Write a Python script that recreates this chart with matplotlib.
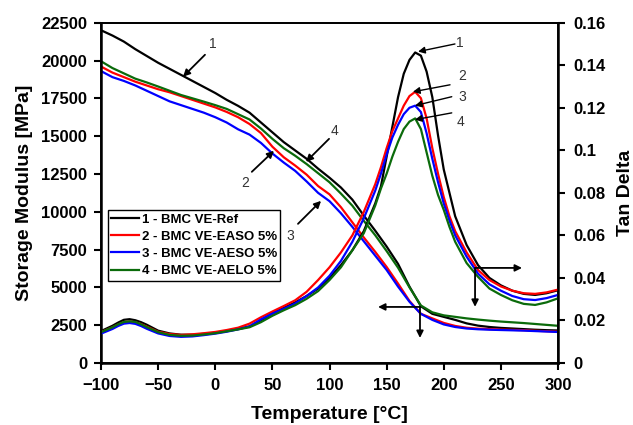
import matplotlib
matplotlib.use("Agg")
import matplotlib.pyplot as plt
from matplotlib.ticker import FixedLocator

plt.rcParams['font.family'] = ['Liberation Sans', 'DejaVu Sans']

# ---------------- data ----------------
temp_mod = [-100, -90, -80, -70, -60, -50, -40, -30, -20, -10, 0, 10, 20, 30, 40, 50,
            60, 70, 80, 90, 100, 110, 120, 130, 140, 150, 160, 170, 180, 190, 200,
            210, 220, 230, 240, 250, 260, 270, 280, 290, 300]

mod_ref = [22000, 21650, 21250, 20750, 20300, 19850, 19450, 19050, 18650, 18250, 17850,
           17400, 17000, 16550, 15900, 15250, 14600, 14050, 13500, 12850, 12250, 11600,
           10800, 9750, 8750, 7700, 6550, 5050, 3750, 3250, 3050, 2850, 2620, 2470, 2380,
           2320, 2280, 2240, 2200, 2170, 2150]
mod_easo = [19600, 19200, 18900, 18600, 18350, 18100, 17900, 17650, 17400, 17150, 16900,
            16600, 16250, 15800, 15200, 14300, 13600, 13050, 12450, 11700, 11150, 10300,
            9300, 8300, 7350, 6350, 5250, 4100, 3250, 2950, 2650, 2450, 2330, 2270, 2240,
            2210, 2190, 2170, 2130, 2100, 2070]
mod_aeso = [19300, 18900, 18650, 18350, 18000, 17650, 17300, 17050, 16800, 16550, 16250,
            15900, 15450, 15100, 14550, 13850, 13250, 12700, 12000, 11250, 10700, 9900,
            9000, 8050, 7100, 6150, 5050, 4050, 3250, 2850, 2550, 2380, 2280, 2230, 2200,
            2180, 2160, 2140, 2110, 2080, 2050]
mod_aelo = [19950, 19500, 19150, 18800, 18550, 18280, 18000, 17720, 17500, 17280, 17050,
            16800, 16450, 16100, 15500, 14820, 14200, 13700, 13150, 12550, 11950, 11200,
            10400, 9400, 8450, 7400, 6300, 5000, 3800, 3350, 3150, 3050, 2950, 2870, 2800,
            2740, 2690, 2640, 2580, 2520, 2460]

temp_tan = [-100, -90, -85, -80, -75, -70, -65, -60, -50, -40, -30, -20, -10, 0, 10, 20,
            30, 40, 50, 60, 70, 80, 90, 100, 110, 120, 130, 140, 145, 150, 155, 160, 165,
            170, 175, 180, 185, 190, 195, 200, 205, 210, 220, 230, 240, 250, 260, 270,
            280, 290, 300]

tan_ref = [0.0150, 0.0175, 0.0190, 0.0203, 0.0206, 0.0201, 0.0192, 0.0180, 0.0152, 0.0139,
           0.0133, 0.0133, 0.0137, 0.0142, 0.0150, 0.0160, 0.0172, 0.0200, 0.0233, 0.0260,
           0.0285, 0.0315, 0.0350, 0.0400, 0.0460, 0.0530, 0.0620, 0.0750, 0.0830, 0.0970,
           0.1110, 0.1250, 0.1360, 0.1425, 0.1460, 0.1445, 0.1370, 0.1250, 0.1070, 0.0910,
           0.0800, 0.0690, 0.0555, 0.0460, 0.0400, 0.0365, 0.0340, 0.0325, 0.0320, 0.0328,
           0.0342]
tan_easo = [0.0145, 0.0168, 0.0181, 0.0192, 0.0195, 0.0192, 0.0183, 0.0171, 0.0147, 0.0136,
            0.0132, 0.0135, 0.0140, 0.0146, 0.0155, 0.0166, 0.0185, 0.0215, 0.0242, 0.0268,
            0.0295, 0.0335, 0.0390, 0.0450, 0.0520, 0.0600, 0.0710, 0.0840, 0.0920, 0.1010,
            0.1090, 0.1150, 0.1210, 0.1255, 0.1275, 0.1245, 0.1150, 0.1010, 0.0890, 0.0780,
            0.0690, 0.0620, 0.0520, 0.0437, 0.0390, 0.0360, 0.0340, 0.0328, 0.0325, 0.0332,
            0.0345]
tan_aeso = [0.0138, 0.0160, 0.0174, 0.0185, 0.0188, 0.0184, 0.0174, 0.0161, 0.0139, 0.0127,
            0.0123, 0.0125, 0.0131, 0.0138, 0.0147, 0.0158, 0.0172, 0.0205, 0.0232, 0.0255,
            0.0280, 0.0315, 0.0355, 0.0410, 0.0480, 0.0570, 0.0680, 0.0810, 0.0890, 0.0980,
            0.1060, 0.1120, 0.1170, 0.1200, 0.1210, 0.1180, 0.1080, 0.0960, 0.0850, 0.0750,
            0.0670, 0.0600, 0.0500, 0.0420, 0.0370, 0.0340, 0.0315, 0.0300, 0.0296, 0.0305,
            0.0320]
tan_aelo = [0.0145, 0.0168, 0.0182, 0.0193, 0.0196, 0.0193, 0.0182, 0.0169, 0.0145, 0.0132,
            0.0128, 0.0129, 0.0134, 0.0140, 0.0149, 0.0158, 0.0168, 0.0192, 0.0222, 0.0248,
            0.0272, 0.0302, 0.0338, 0.0390, 0.0450, 0.0530, 0.0610, 0.0740, 0.0820, 0.0890,
            0.0970, 0.1040, 0.1100, 0.1135, 0.1150, 0.1100, 0.0990, 0.0880, 0.0790, 0.0720,
            0.0640, 0.0570, 0.0470, 0.0405, 0.0350, 0.0320, 0.0295, 0.0278, 0.0273, 0.0285,
            0.0304]

labels = ["1 - BMC VE-Ref", "2 - BMC VE-EASO 5%", "3 - BMC VE-AESO 5%", "4 - BMC VE-AELO 5%"]
colors = ["#000000", "#ff0000", "#0000ff", "#0b6b0b"]

x_ticks = [-100, -50, 0, 50, 100, 150, 200, 250, 300]
y_ticks = [0, 2500, 5000, 7500, 10000, 12500, 15000, 17500, 20000, 22500]
y2_ticks = [0, 0.02, 0.04, 0.06, 0.08, 0.1, 0.12, 0.14, 0.16]
y2_labels = ["0", "0.02", "0.04", "0.06", "0.08", "0.1", "0.12", "0.14", "0.16"]

# ---------------- figure ----------------
fig = plt.figure(figsize=(6.33, 4.25), dpi=100)
ax = fig.add_axes([0.1596, 0.1459, 0.7219, 0.8007])
ax2 = ax.twinx()

mods = [mod_ref, mod_easo, mod_aeso, mod_aelo]
tans = [tan_ref, tan_easo, tan_aeso, tan_aelo]
handles = []
for m, c, lab in zip(mods, colors, labels):
    h, = ax.plot(temp_mod, m, color=c, lw=1.6, label=lab)
    handles.append(h)
for t, c in zip(tans, colors):
    ax2.plot(temp_tan, t, color=c, lw=1.6)

ax.set_xlim(-100, 300)
ax.set_ylim(0, 22500)
ax2.set_ylim(0, 0.16)
ax.xaxis.set_major_locator(FixedLocator(x_ticks))
ax.yaxis.set_major_locator(FixedLocator(y_ticks))
ax2.yaxis.set_major_locator(FixedLocator(y2_ticks))
ax2.set_yticklabels(y2_labels)

for a in (ax, ax2):
    for s in a.spines.values():
        s.set_color('black')
        s.set_linewidth(1.3)
ax.spines['left'].set_linewidth(1.8)
ax.spines['bottom'].set_linewidth(1.8)
ax2.spines['right'].set_linewidth(1.8)

ax.tick_params(axis='both', direction='out', length=5, width=1.5, labelsize=12, pad=5)
ax.tick_params(axis='x', pad=6)
ax2.tick_params(axis='y', direction='out', length=5, width=1.5, labelsize=12, pad=6)
for lbl in ax.get_xticklabels() + ax.get_yticklabels() + ax2.get_yticklabels():
    lbl.set_fontweight('bold')

ax.set_xlabel("Temperature [°C]", fontsize=14, fontweight='bold', labelpad=9)
ax.set_ylabel("Storage Modulus [MPa]", fontsize=14, fontweight='bold', labelpad=6)
ax2.set_ylabel("Tan Delta", fontsize=14, fontweight='bold', labelpad=8)

leg = ax2.legend(handles=handles, labels=labels, loc='upper left',
                 bbox_to_anchor=(0.0153, 0.4496), borderaxespad=0,
                 fancybox=False, edgecolor='black', framealpha=1,
                 prop={'family': 'Liberation Sans', 'weight': 'bold', 'size': 9.5},
                 handlelength=2.1, handletextpad=0.2, labelspacing=0.38,
                 borderpad=0.25)
leg.get_frame().set_linewidth(1.0)

arrow_kw = dict(arrowstyle='-|>', color='black', lw=1.3, mutation_scale=10,
                shrinkA=0, shrinkB=0)
num_kw = dict(fontsize=10, color='#333333', ha='center', va='center')

# modulus annotations (left axis)
mod_notes = [("1", (-2, 21110), (-9, 20380), (-28.2, 18930)),
             ("2", (26, 11910), (32, 12640), (51.4, 14030)),
             ("3", (65.4, 8400), (72.4, 9200), (92.6, 10720)),
             ("4", (104.8, 15350), (99.6, 14820), (79.4, 13300))]
for txt, tpos, tail, head in mod_notes:
    ax.text(tpos[0], tpos[1], txt, **num_kw)
    ax.annotate("", xy=head, xytext=tail, arrowprops=arrow_kw)

# tan delta annotations (right axis)
tan_notes = [("1", (214, 0.1506), (209.8, 0.1500), (177.5, 0.1464)),
             ("2", (216, 0.1350), (205.5, 0.1308), (173, 0.1275)),
             ("3", (216, 0.1252), (207, 0.1252), (174.8, 0.1210)),
             ("4", (215, 0.1134), (207, 0.1176), (174.8, 0.1144))]
for txt, tpos, tail, head in tan_notes:
    ax2.text(tpos[0], tpos[1], txt, **num_kw)
    ax2.annotate("", xy=head, xytext=tail, arrowprops=dict(arrow_kw, lw=1.0))

# axis-direction arrows
ax2.annotate("", xy=(268.5, 0.0447), xytext=(227.4, 0.0447), arrowprops=arrow_kw)
ax2.annotate("", xy=(227.4, 0.0264), xytext=(227.4, 0.0447), arrowprops=arrow_kw)
ax2.annotate("", xy=(142.5, 3706 / 22500 * 0.16), xytext=(179.2, 3706 / 22500 * 0.16),
             arrowprops=arrow_kw)
ax2.annotate("", xy=(179.2, 1655 / 22500 * 0.16), xytext=(179.2, 3706 / 22500 * 0.16),
             arrowprops=arrow_kw)

fig.savefig("out.png", dpi=100)
